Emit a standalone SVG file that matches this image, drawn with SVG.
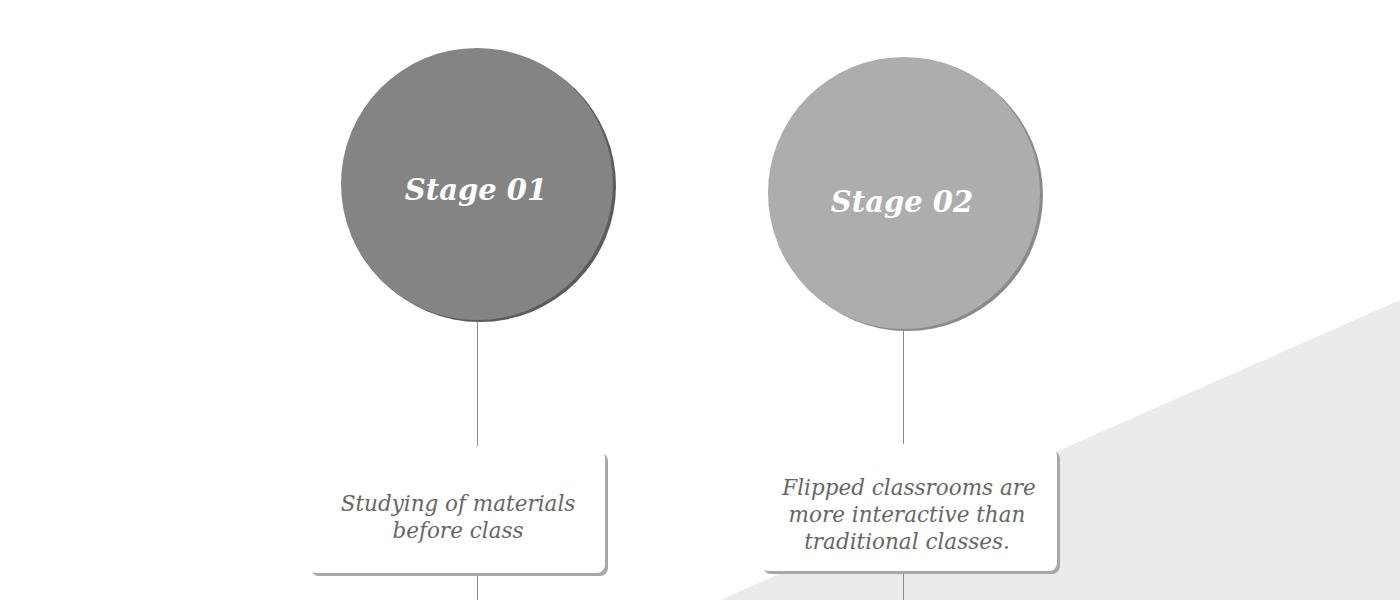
<svg xmlns="http://www.w3.org/2000/svg" width="1400" height="600" viewBox="0 0 1400 600">
<style>
.stage{font-family:"DejaVu Serif","Liberation Serif",serif;font-style:italic;font-weight:bold;font-size:29px;fill:#ffffff;text-anchor:middle}
.desc{font-family:"DejaVu Serif","Liberation Serif",serif;font-style:italic;font-size:21.5px;fill:#666666;text-anchor:middle}
.conn{stroke:#8a8a8a;stroke-width:1;fill:none}
.box{fill:#ffffff}
.boxsh{fill:#a8a8a8}
</style>
<rect x="0" y="0" width="1400" height="600" fill="#ffffff"/>
<polygon points="720,600 1400,300 1400,600" fill="#ebebeb"/>
<g id="connectors">
<line class="conn" x1="477.5" y1="321" x2="477.5" y2="446"/>
<line class="conn" x1="477.5" y1="575" x2="477.5" y2="600"/>
<line class="conn" x1="903.5" y1="329" x2="903.5" y2="444"/>
<line class="conn" x1="903.5" y1="573" x2="903.5" y2="600"/>
</g>
<g id="stage01">
<circle cx="480" cy="186" r="136" fill="#5c5c5c"/>
<circle cx="477" cy="184" r="136" fill="#848484"/>
<text class="stage" x="476" y="200">Stage 01</text>
</g>
<g id="stage02">
<circle cx="907" cy="195" r="136" fill="#8a8a8a"/>
<circle cx="904" cy="193" r="136" fill="#adadad"/>
<text class="stage" x="902" y="212">Stage 02</text>
</g>
<g id="box01">
<rect class="boxsh" x="311" y="453" width="297" height="123" rx="8"/>
<rect class="box" x="308" y="450" width="297" height="123" rx="8"/>
<text class="desc" x="458" y="511">Studying of materials</text>
<text class="desc" x="458" y="538">before class</text>
</g>
<g id="box02">
<rect class="boxsh" x="763" y="451" width="297" height="123" rx="8"/>
<rect class="box" x="760" y="448" width="297" height="123" rx="8"/>
<text class="desc" x="909" y="495">Flipped classrooms are</text>
<text class="desc" x="907" y="522">more interactive than</text>
<text class="desc" x="907" y="549">traditional classes.</text>
</g>
</svg>
